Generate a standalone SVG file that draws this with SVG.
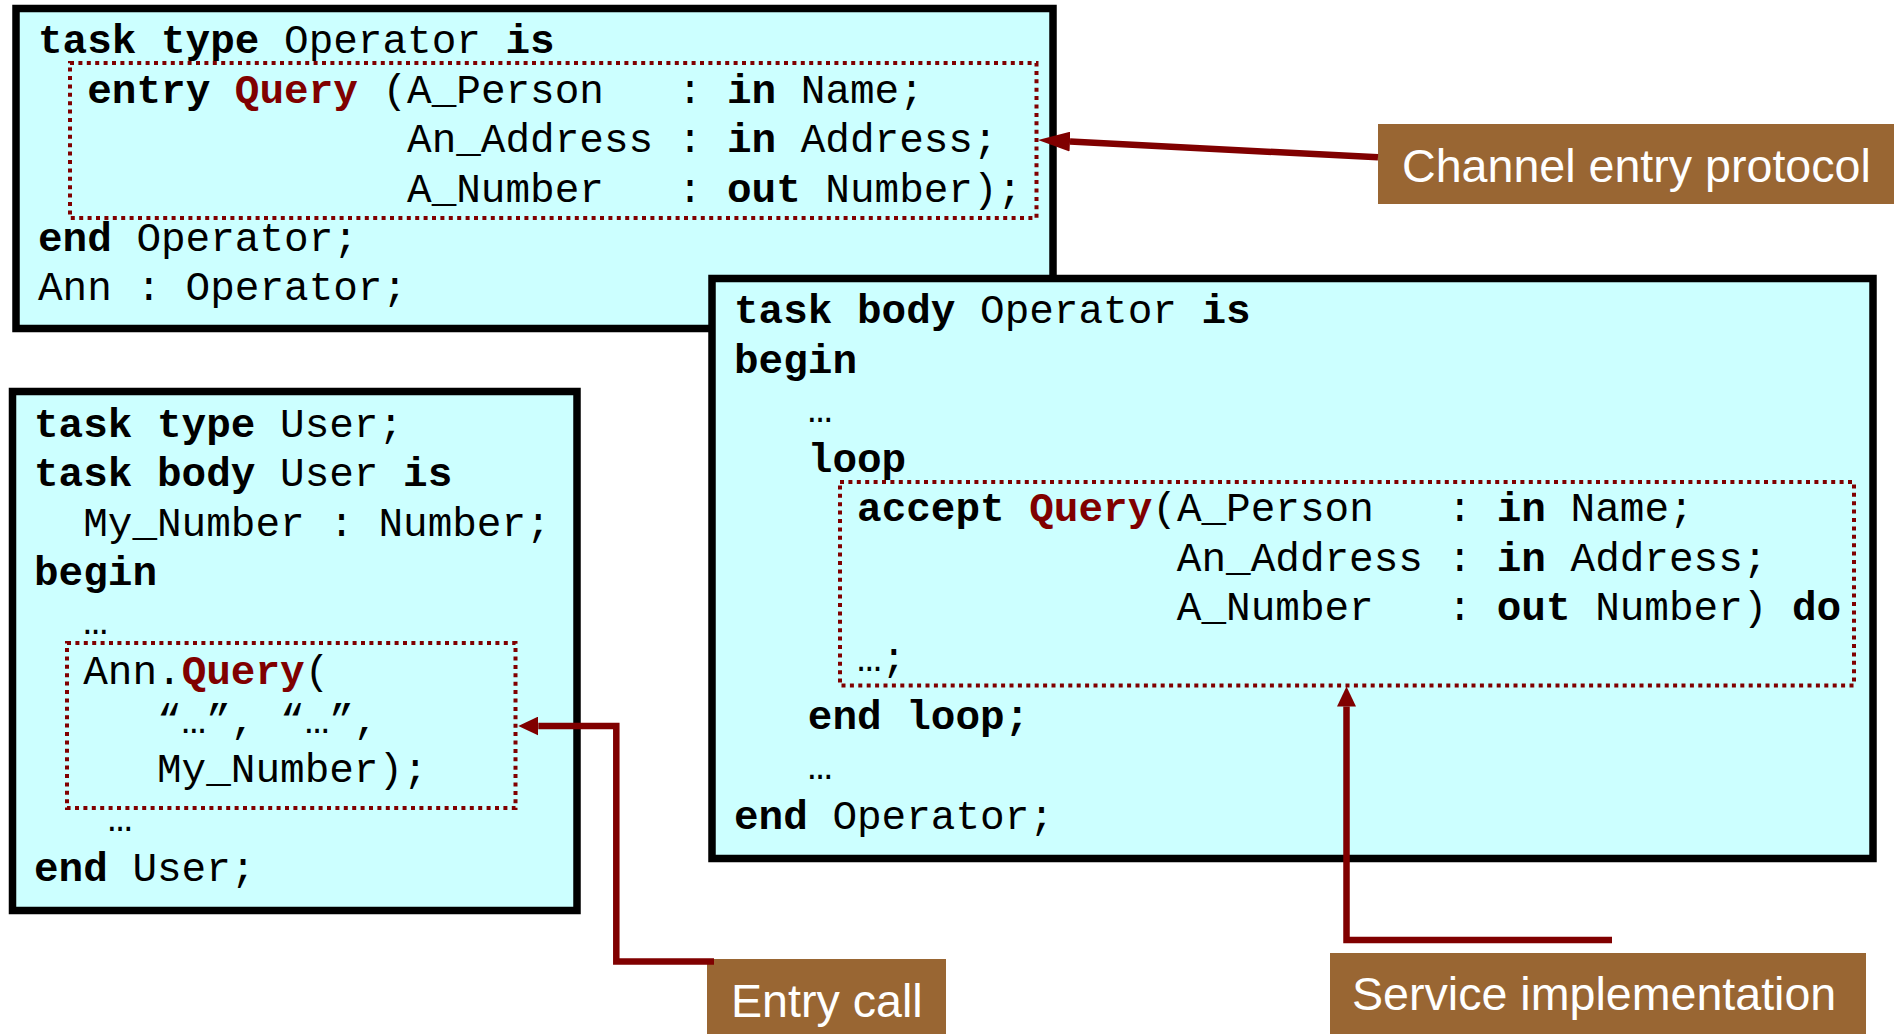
<svg xmlns="http://www.w3.org/2000/svg" width="1894" height="1034" viewBox="0 0 1894 1034">
  <style>
    .box { fill: #CCFFFF; stroke: #000000; stroke-width: 7.5; }
    .zone { fill: none; stroke: #800000; stroke-width: 4; stroke-dasharray: 4 4.4; }
    .code { font-family: "Liberation Mono", "Courier New", monospace; font-size: 41px; fill: #000000; }
    .k { font-weight: bold; }
    .q { font-weight: bold; fill: #800000; }
    .label { fill: #996633; }
    .label-text { font-family: "Liberation Sans", Arial, sans-serif; font-size: 46.6px; fill: #FFFFFF; }
    .link { fill: none; stroke: #800000; stroke-width: 6.5; }
  </style>
  <defs>
    <marker id="head" markerUnits="userSpaceOnUse" markerWidth="20" markerHeight="19" refX="0" refY="9.5" orient="auto" viewBox="0 0 20 19">
      <path d="M0,0 L20,9.5 L0,19 Z" fill="#800000"/>
    </marker>
    <marker id="head-long" markerUnits="userSpaceOnUse" markerWidth="32" markerHeight="20" refX="0" refY="10" orient="auto" viewBox="0 0 32 20">
      <path d="M0,0 L32,10 L0,20 Z" fill="#800000"/>
    </marker>
  </defs>

  <rect width="1894" height="1034" fill="#FFFFFF"/>

  <!-- task type Operator -->
  <g id="operator-spec">
    <rect class="box" x="16" y="8.5" width="1037" height="320"/>
    <rect class="zone" x="70" y="63" width="966.5" height="155"/>
    <text class="code" x="38" y="53" xml:space="preserve"><tspan class="k">task type</tspan> Operator <tspan class="k">is</tspan></text>
    <text class="code" x="38" y="102.5" xml:space="preserve">  <tspan class="k">entry</tspan> <tspan class="q">Query</tspan> (A_Person   : <tspan class="k">in</tspan> Name;</text>
    <text class="code" x="38" y="152" xml:space="preserve">               An_Address : <tspan class="k">in</tspan> Address;</text>
    <text class="code" x="38" y="201.5" xml:space="preserve">               A_Number   : <tspan class="k">out</tspan> Number);</text>
    <text class="code" x="38" y="251" xml:space="preserve"><tspan class="k">end</tspan> Operator;</text>
    <text class="code" x="38" y="300" xml:space="preserve">Ann : Operator;</text>
  </g>

  <!-- task body Operator -->
  <g id="operator-body">
    <rect class="box" x="712" y="278.5" width="1161" height="580"/>
    <rect class="zone" x="840" y="482" width="1014" height="203.5"/>
    <text class="code" x="734" y="323" xml:space="preserve"><tspan class="k">task body</tspan> Operator <tspan class="k">is</tspan></text>
    <text class="code" x="734" y="372.5" xml:space="preserve"><tspan class="k">begin</tspan></text>
    <text class="code" x="734" y="422" xml:space="preserve">   …</text>
    <text class="code" x="734" y="471.5" xml:space="preserve">   <tspan class="k">loop</tspan></text>
    <text class="code" x="734" y="521" xml:space="preserve">     <tspan class="k">accept</tspan> <tspan class="q">Query</tspan>(A_Person   : <tspan class="k">in</tspan> Name;</text>
    <text class="code" x="734" y="570.5" xml:space="preserve">                  An_Address : <tspan class="k">in</tspan> Address;</text>
    <text class="code" x="734" y="620" xml:space="preserve">                  A_Number   : <tspan class="k">out</tspan> Number) <tspan class="k">do</tspan></text>
    <text class="code" x="734" y="671" xml:space="preserve">     …;</text>
    <text class="code" x="734" y="729" xml:space="preserve">   <tspan class="k">end loop;</tspan></text>
    <text class="code" x="734" y="779" xml:space="preserve">   …</text>
    <text class="code" x="734" y="829" xml:space="preserve"><tspan class="k">end</tspan> Operator;</text>
  </g>

  <!-- task User -->
  <g id="user-task">
    <rect class="box" x="12.5" y="391.5" width="564.5" height="519"/>
    <rect class="zone" x="67" y="643" width="448.5" height="165"/>
    <text class="code" x="34" y="437" xml:space="preserve"><tspan class="k">task type</tspan> User;</text>
    <text class="code" x="34" y="486.3" xml:space="preserve"><tspan class="k">task body</tspan> User <tspan class="k">is</tspan></text>
    <text class="code" x="34" y="535.6" xml:space="preserve">  My_Number : Number;</text>
    <text class="code" x="34" y="584.9" xml:space="preserve"><tspan class="k">begin</tspan></text>
    <text class="code" x="34" y="634.2" xml:space="preserve">  …</text>
    <text class="code" x="34" y="683.5" xml:space="preserve">  Ann.<tspan class="q">Query</tspan>(</text>
    <text class="code" x="34" y="732.8" xml:space="preserve">     “…”, “…”,</text>
    <text class="code" x="34" y="782.1" xml:space="preserve">     My_Number);</text>
    <text class="code" x="34" y="831.4" xml:space="preserve">   …</text>
    <text class="code" x="34" y="880.7" xml:space="preserve"><tspan class="k">end</tspan> User;</text>
  </g>

  <!-- callout labels -->
  <g id="label-channel">
    <rect class="label" x="1378" y="124" width="516" height="80"/>
    <text class="label-text" x="1402" y="182">Channel entry protocol</text>
  </g>
  <g id="label-entry-call">
    <rect class="label" x="707" y="959" width="239" height="75"/>
    <text class="label-text" x="731" y="1017">Entry call</text>
  </g>
  <g id="label-service">
    <rect class="label" x="1330" y="953" width="536" height="81"/>
    <text class="label-text" x="1352" y="1010">Service implementation</text>
  </g>

  <!-- connectors -->
  <g id="connectors">
    <path class="link" d="M1378,157.3 L1070,141.6" marker-end="url(#head-long)"/>
    <path class="link" d="M714,961.5 H616.3 V726 H538.3" marker-end="url(#head)"/>
    <path class="link" d="M1612,940 H1346.5 V706.5" marker-end="url(#head)"/>
  </g>
</svg>
